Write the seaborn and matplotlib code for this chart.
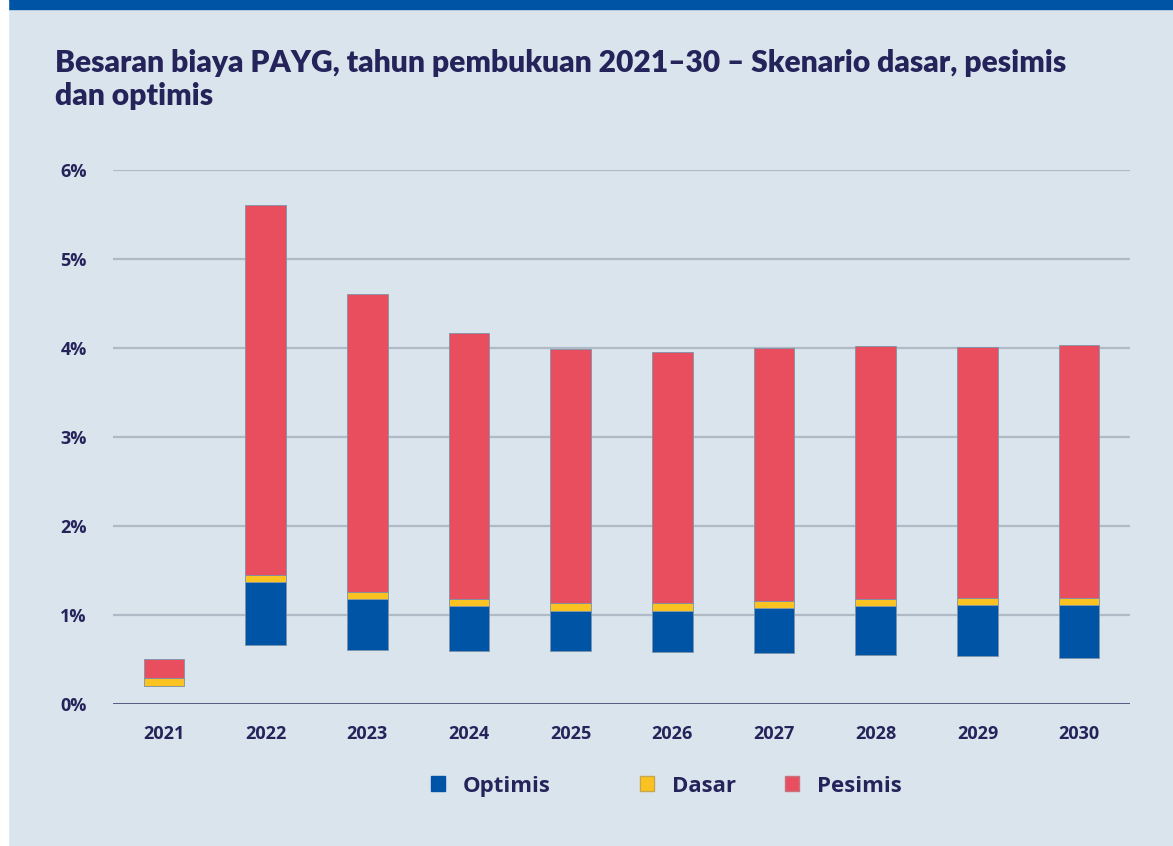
import pandas as pd
import matplotlib.pyplot as plt
import seaborn as sns
from matplotlib.patches import Patch, Rectangle

# Datos (porcentaje del PIB)
tahun = ["2021", "2022", "2023", "2024", "2025", "2026", "2027", "2028", "2029", "2030"]
optimis = [0.20, 0.66, 0.61, 0.59, 0.59, 0.58, 0.57, 0.55, 0.54, 0.52]
dasar = [0.25, 1.41, 1.22, 1.14, 1.09, 1.09, 1.12, 1.14, 1.15, 1.15]
pesimis = [0.51, 5.61, 4.61, 4.17, 3.99, 3.96, 4.00, 4.02, 4.01, 4.03]

# grosor de la franja amarilla del escenario dasar
banda = 0.085

df = pd.DataFrame({"Tahun": tahun, "Optimis": optimis, "Dasar": dasar, "Pesimis": pesimis})
df["blue_top"] = df["Dasar"] - banda / 2
df["yellow_top"] = df["Dasar"] + banda / 2

bg = "#dae4ed"
navy = "#24235a"
c_blue = "#0054a6"
c_yellow = "#fbc321"
c_red = "#e94e5f"

sns.set_theme(style="white")
plt.rcParams["font.family"] = ["Open Sans", "DejaVu Sans"]

fig = plt.figure(figsize=(11.73, 8.46), dpi=100)
fig.patch.set_facecolor(bg)

# franja superior azul y borde blanco izquierdo
fig.add_artist(Rectangle((0, 1 - 9 / 846), 1, 9 / 846, transform=fig.transFigure, color=c_blue, zorder=5))
fig.add_artist(Rectangle((0, 0), 8 / 1173, 1, transform=fig.transFigure, color="white", zorder=5))

ax = fig.add_axes([113 / 1173, (846 - 704) / 846, (1130 - 113) / 1173, (704 - 170) / 846])
ax.set_facecolor(bg)

edge = "#7f93a8"
sns.barplot(data=df, x="Tahun", y=df["blue_top"] - df["Optimis"], bottom=df["Optimis"].values,
            color=c_blue, width=0.4, edgecolor=edge, linewidth=0.6, saturation=1, ax=ax, zorder=3)
sns.barplot(data=df, x="Tahun", y=df["yellow_top"] - df["blue_top"], bottom=df["blue_top"].values,
            color=c_yellow, width=0.4, edgecolor=edge, linewidth=0.6, saturation=1, ax=ax, zorder=3)
sns.barplot(data=df, x="Tahun", y=df["Pesimis"] - df["yellow_top"], bottom=df["yellow_top"].values,
            color=c_red, width=0.4, edgecolor=edge, linewidth=0.6, saturation=1, ax=ax, zorder=3)

ax.set_xlim(-0.5, len(tahun) - 0.5)
ax.set_ylim(0, 6)
ax.set_yticks([0, 1, 2, 3, 4, 5, 6])
ax.set_yticklabels([f"{v}%" for v in range(7)])
for y in range(1, 7):
    ax.axhline(y, color="#b0bac7", linewidth=1.6, zorder=1)
ax.axhline(0, color="#2f3160", linewidth=1.8, zorder=4)

ax.set_xlabel("")
ax.set_ylabel("")
for s in ax.spines.values():
    s.set_visible(False)
ax.tick_params(axis="both", length=0, colors=navy, labelsize=13)
ax.tick_params(axis="y", pad=19)
ax.tick_params(axis="x", pad=15)
for lbl in ax.get_xticklabels() + ax.get_yticklabels():
    lbl.set_fontweight("bold")

fig.text(55 / 1173, 1 - 49 / 846,
         "Besaran biaya PAYG, tahun pembukuan 2021–30 – Skenario dasar, pesimis\ndan optimis",
         ha="left", va="top", fontsize=21.6, fontweight="heavy", color=navy,
         family=["Lato", "DejaVu Sans"], linespacing=1.22)

# leyenda: tres entradas colocadas por separado
entradas = [("Optimis", c_blue, c_blue, 431),
            ("Dasar", c_yellow, "#c9a64a", 640),
            ("Pesimis", c_red, "#c9737e", 785)]
for nombre, fc, ec, xpx in entradas:
    leg = fig.legend([Patch(facecolor=fc, edgecolor=ec)], [nombre], loc="center left",
                     bbox_to_anchor=(xpx / 1173, 1 - 786 / 846), frameon=False,
                     borderaxespad=0, borderpad=0,
                     handlelength=0.65, handleheight=0.65, handletextpad=0.8,
                     prop={"size": 16, "weight": "bold"})
    for t in leg.get_texts():
        t.set_color(navy)

fig.savefig("out.png", dpi=100, facecolor=fig.get_facecolor())
